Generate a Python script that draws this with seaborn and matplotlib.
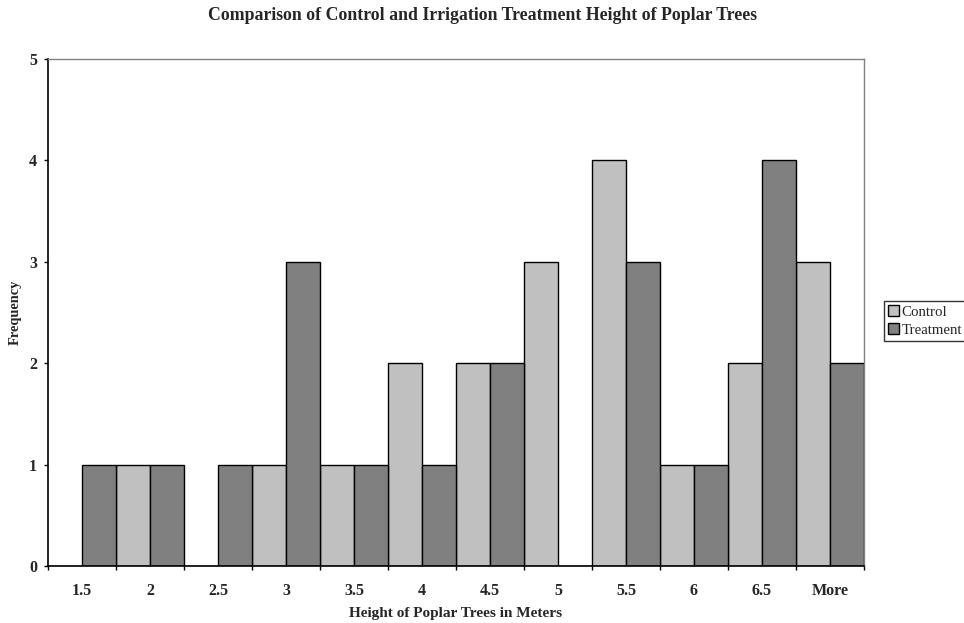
import matplotlib
matplotlib.use("Agg")
import matplotlib.pyplot as plt
import seaborn as sns
import pandas as pd
from matplotlib.ticker import FixedLocator
from matplotlib.patches import Patch

bins = ["1.5", "2", "2.5", "3", "3.5", "4", "4.5", "5", "5.5", "6", "6.5", "More"]
control = [0, 1, 0, 1, 1, 2, 2, 3, 4, 1, 2, 3]
treatment = [1, 1, 1, 3, 1, 1, 2, 0, 3, 1, 4, 2]
series = ["Control", "Treatment"]
colors = ["#C0C0C0", "#808080"]

df = pd.DataFrame({
    "bin": bins * 2,
    "freq": control + treatment,
    "series": [series[0]] * len(bins) + [series[1]] * len(bins),
})

sns.set_theme(style="white")
plt.rcParams["font.family"] = ["Liberation Serif", "DejaVu Serif"]

fig = plt.figure(figsize=(9.64, 6.23), dpi=100)
ax = fig.add_axes([48 / 964, 57 / 623, 816 / 964, 507 / 623])

sns.barplot(data=df, x="bin", y="freq", hue="series", order=bins,
            hue_order=series, palette=colors, width=1.0, gap=0,
            edgecolor="black", linewidth=1.0, saturation=1, ax=ax,
            legend=False)

ax.set_xlim(-0.5, len(bins) - 0.5)
ax.set_ylim(0, 5)
ax.set_yticks(range(6))
ax.set_yticklabels([str(i) for i in range(6)], fontsize=11.5, fontweight="bold")
ax.set_xticks(range(len(bins)))
ax.set_xticklabels(bins, fontsize=11.5, fontweight="bold")
ax.xaxis.set_minor_locator(FixedLocator([i - 0.5 for i in range(len(bins) + 1)]))
ax.tick_params(axis="x", which="major", bottom=True, length=0, pad=12)
ax.tick_params(axis="x", which="minor", bottom=True, length=3, width=1,
               color="black", direction="out")
ax.tick_params(axis="y", which="major", left=True, length=3, width=1,
               color="black", direction="out", pad=5)

for side in ["left", "bottom"]:
    ax.spines[side].set_color("black")
    ax.spines[side].set_linewidth(1.2)
for side in ["top", "right"]:
    ax.spines[side].set_color("#808080")
    ax.spines[side].set_linewidth(1.0)

ax.set_xlabel("Height of Poplar Trees in Meters", fontsize=11, fontweight="bold")
ax.xaxis.set_label_coords(0.5, -(607 - 566) / 507)
ax.set_ylabel("Frequency", fontsize=10.4, fontweight="bold")
ax.yaxis.set_label_coords(-(48 - 22) / 816, 0.5)
fig.text(0.5, 1 - 16 / 623, "Comparison of Control and Irrigation Treatment Height of Poplar Trees",
         ha="center", va="center", fontsize=12.8, fontweight="bold")

handles = [Patch(facecolor=c, edgecolor="black", linewidth=1) for c in colors]
leg = fig.legend(handles, series, loc="upper left",
                 bbox_to_anchor=(884 / 964, 1 - 301 / 623), frameon=True,
                 fancybox=False, edgecolor="black", fontsize=10.7,
                 handlelength=0.7, handleheight=0.7, handletextpad=0.2,
                 borderpad=0.3, labelspacing=0.3, borderaxespad=0)
leg.get_frame().set_linewidth(1.0)

fig.savefig("out.png", dpi=100)
